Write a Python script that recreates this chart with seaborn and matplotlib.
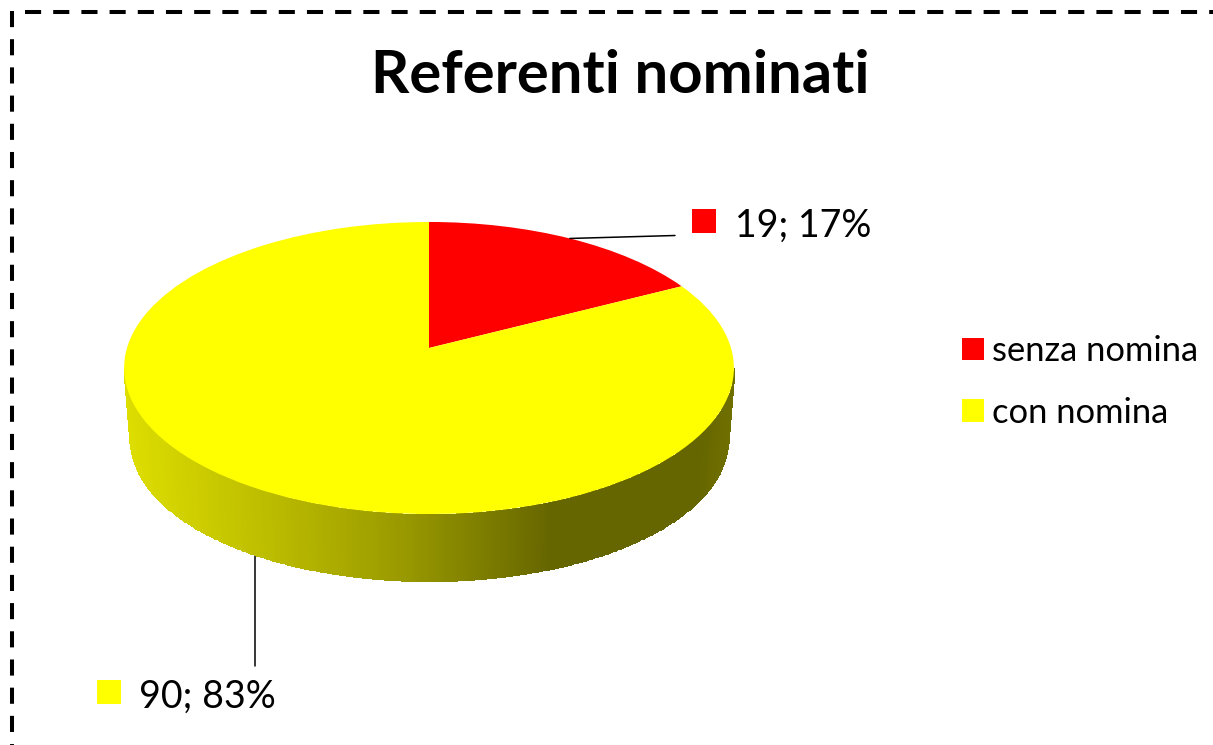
import numpy as np
import matplotlib
matplotlib.use('Agg')
import matplotlib.pyplot as plt
from matplotlib.colors import LinearSegmentedColormap
from matplotlib.transforms import Transform
import seaborn as sns

# dati del grafico
categorie = ['senza nomina', 'con nomina']
valori = [19, 90]
percentuali = [17, 83]
colori = ['#ff0000', '#ffff00']
titolo = 'Referenti nominati'

sns.set_theme(style='white')
plt.rcParams['font.family'] = ['Lato', 'DejaVu Sans']
plt.rcParams['text.color'] = 'black'

# prospettiva del disco: bordo superiore e bordo inferiore
K = 0.137


def proietta(x, y, cx=429, cy=348, a=302, s=143.3):
    d = 1 + K * y
    return cx + a * x / d, cy - s * y / d


class Prospettiva(Transform):
    input_dims = 2
    output_dims = 2

    def transform_non_affine(self, values):
        values = np.asarray(values)
        X, Y = proietta(values[:, 0], values[:, 1])
        return np.column_stack([X, Y])


fig = plt.figure(figsize=(12.13, 7.45), dpi=100)
ax = fig.add_axes([0, 0, 1, 1])

# torta
wedges, _ = ax.pie(valori, colors=colori, startangle=90, counterclock=False,
                   wedgeprops={'linewidth': 0, 'zorder': 2})
for w in wedges:
    w.set_transform(Prospettiva() + ax.transData)
ax.set_aspect('auto')
ax.set_xlim(0, 1213)
ax.set_ylim(745, 0)
ax.axis('off')

# parete laterale con sfumatura
sfumatura = LinearSegmentedColormap.from_list('parete', [
    (0.00, '#dddd00'), (0.22, '#bebe00'), (0.45, '#9a9a00'),
    (0.70, '#666600'), (0.95, '#666600'), (1.00, '#707000')])
t = np.linspace(-np.arcsin(K), -np.pi + np.arcsin(K), 400)
x_su, y_su = proietta(np.cos(t), np.sin(t))
x_giu, y_giu = proietta(np.cos(t), np.sin(t), cy=420, a=296, s=139)
X = np.vstack([x_su, x_giu])
Y = np.vstack([y_su, y_giu])
C = (0.5 * (X[0, :-1] + X[0, 1:]) - X.min()) / (X.max() - X.min())
ax.pcolormesh(X, Y, C[np.newaxis, :], cmap=sfumatura, vmin=0, vmax=1,
              shading='flat', edgecolors='face', linewidth=0.4, zorder=1)

# etichette dati con linee guida
tot = sum(valori)
inizio = 0
pos_etichette = [(704, 221, 735), (109, 692, 139)]
for i, v in enumerate(valori):
    medio = 2 * np.pi * (inizio + v / 2) / tot
    inizio += v
    sx, sy = np.sin(medio), np.cos(medio)
    mx, my, tx = pos_etichette[i]
    if sy > 0:
        x0, y0 = proietta(sx, sy)
        ax.plot([x0, 675], [y0, 235.5], color='black', lw=1.1, zorder=3)
    else:
        x0, y0 = proietta(sx, sy, cy=420, a=296, s=139)
        ax.plot([x0 + 1, x0 + 1], [y0, 666], color='black', lw=1.1, zorder=0.5)
    ax.scatter([mx], [my], marker='s', s=298, color=colori[i], linewidths=0, zorder=3)
    ax.text(tx, my + 5, f'{v}; {percentuali[i]}%', fontsize=27, va='center', ha='left')

# legenda
ax.legend(wedges, categorie, loc='center left', bbox_to_anchor=(962, 382),
          bbox_transform=ax.transData, frameon=False, fontsize=24.8,
          handlelength=0.64, handleheight=0.64, handletextpad=0.22,
          labelspacing=0.87, borderpad=0, borderaxespad=0)

ax.text(620, 76, titolo, fontsize=43, fontweight='bold', ha='center', va='center')

# cornice tratteggiata (solo alto e sinistra)
stile = (0, (4, 3))
ax.plot([25, 1213], [12, 12], color='black', lw=2.9, ls=stile, dash_capstyle='butt')
ax.plot([12, 12], [11, 745], color='black', lw=2.9, ls=stile, dash_capstyle='butt')

fig.savefig('out.png', dpi=100)
